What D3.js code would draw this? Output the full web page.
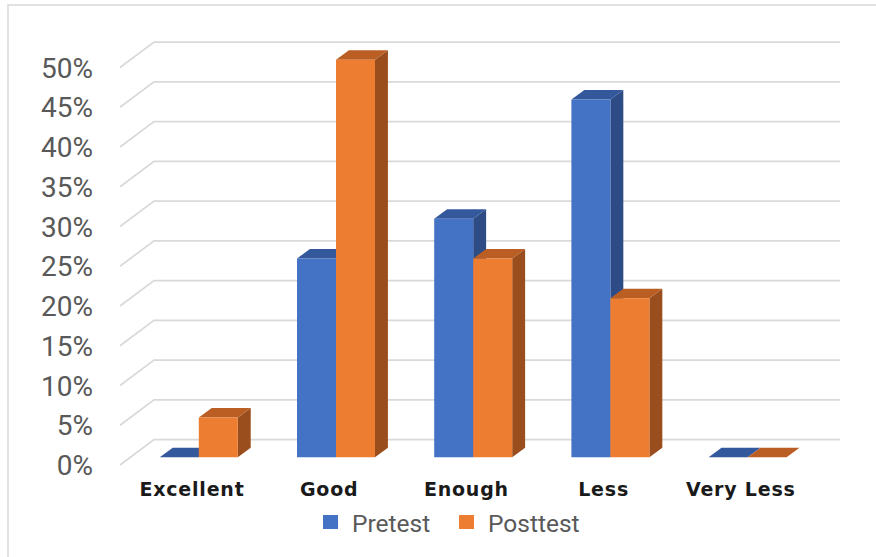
<!DOCTYPE html>
<html>
<head>
<meta charset="utf-8">
<script src="https://cdn.jsdelivr.net/npm/d3@7"></script>
<style>
  html, body { margin: 0; padding: 0; background: #fff; }
  svg { display: block; }
</style>
</head>
<body>
<svg id="chart" width="876" height="557"></svg>
<script>
const categories = ["Excellent", "Good", "Enough", "Less", "Very Less"];
const seriesNames = ["Pretest", "Posttest"];
const pretest = [0, 0.25, 0.30, 0.45, 0];
const posttest = [0.05, 0.50, 0.25, 0.20, 0];
const tickValues = [0, 0.05, 0.10, 0.15, 0.20, 0.25, 0.30, 0.35, 0.40, 0.45, 0.50];

const colors = {
  Pretest:  { front: "#4472C4", top: "#34589C", side: "#2D4C86" },
  Posttest: { front: "#ED7D31", top: "#BA5E23", side: "#9A4E1D" }
};

const svg = d3.select("#chart");

// frame
svg.append("rect")
  .attr("x", 8).attr("y", 5).attr("width", 900).attr("height", 600)
  .attr("fill", "none").attr("stroke", "#d9d9d9").attr("stroke-width", 1.5);

// oblique 3D projection: front plane scales + depth offset
const DX = 34, DY = -25.5;
const x0 = d3.scaleBand().domain(categories).range([120, 806]).paddingInner(0).paddingOuter(0);
const x1 = d3.scaleBand().domain(seriesNames).range([0, x0.bandwidth()]).paddingInner(0).paddingOuter(0.759);
const y = d3.scaleLinear().domain([0, 0.5]).range([465, 67.5]);
const proj = (px, v, z) => [px + z * DX, y(v) + z * DY];

// gridlines: diagonal side + back wall
const grid = svg.append("g");
tickValues.forEach(t => {
  const a = proj(x0.range()[0], t, 0);
  const b = proj(x0.range()[0], t, 1);
  const c = proj(x0.range()[1], t, 1);
  grid.append("path")
    .attr("d", d3.line()([a, b, c]))
    .attr("fill", "none").attr("stroke", "#d9d9d9").attr("stroke-width", 1.75);
});

// y tick labels
svg.append("g").selectAll("text").data(tickValues).join("text")
  .attr("x", 93).attr("y", d => y(d))
  .attr("dy", "0.36em")
  .attr("text-anchor", "end")
  .attr("font-family", "Roboto, 'Open Sans', sans-serif")
  .attr("font-size", 28)
  .attr("fill", "#595959")
  .text(d3.format(".0%"));

// bars
const Z0 = 0.3, Z1 = 0.68;
const bars = svg.append("g");
const data = categories.map((c, i) => ({ c, vals: [["Pretest", pretest[i]], ["Posttest", posttest[i]]] }));
data.forEach(d => {
  d.vals.forEach(([s, v]) => {
    const xl = x0(d.c) + x1(s);
    const xr = xl + x1.bandwidth();
    const col = colors[s];
    const poly = pts => "M" + pts.map(p => p.join(",")).join("L") + "Z";
    // side face
    if (v > 0) {
      bars.append("path")
        .attr("d", poly([proj(xr, 0, Z0), proj(xr, 0, Z1), proj(xr, v, Z1), proj(xr, v, Z0)]))
        .attr("fill", col.side);
    }
    // top face
    bars.append("path")
      .attr("d", poly([proj(xl, v, Z0), proj(xr, v, Z0), proj(xr, v, Z1), proj(xl, v, Z1)]))
      .attr("fill", col.top);
    // front face
    if (v > 0) {
      bars.append("path")
        .attr("d", poly([proj(xl, 0, Z0), proj(xr, 0, Z0), proj(xr, v, Z0), proj(xl, v, Z0)]))
        .attr("fill", col.front);
    }
  });
});

// category labels
svg.append("g").selectAll("text").data(categories).join("text")
  .attr("x", d => x0(d) + x0.bandwidth() / 2 + 0.1 * DX)
  .attr("y", 496)
  .attr("text-anchor", "middle")
  .attr("font-family", "'DejaVu Sans', Verdana, sans-serif")
  .attr("font-weight", "bold")
  .attr("font-size", 19)
  .attr("letter-spacing", 0.8)
  .attr("fill", "#1a1a1a")
  .text(d => d);

// legend
const legend = svg.append("g");
const legendItems = [
  { name: "Pretest", x: 323 },
  { name: "Posttest", x: 459 }
];
legendItems.forEach(it => {
  legend.append("rect")
    .attr("x", it.x).attr("y", 515).attr("width", 15).attr("height", 14)
    .attr("fill", colors[it.name].front);
  legend.append("text")
    .attr("x", it.x + 29).attr("y", 532)
    .attr("font-family", "Roboto, 'Open Sans', sans-serif")
    .attr("font-size", 24.5)
    .attr("fill", "#595959")
    .text(it.name);
});
</script>
</body>
</html>
